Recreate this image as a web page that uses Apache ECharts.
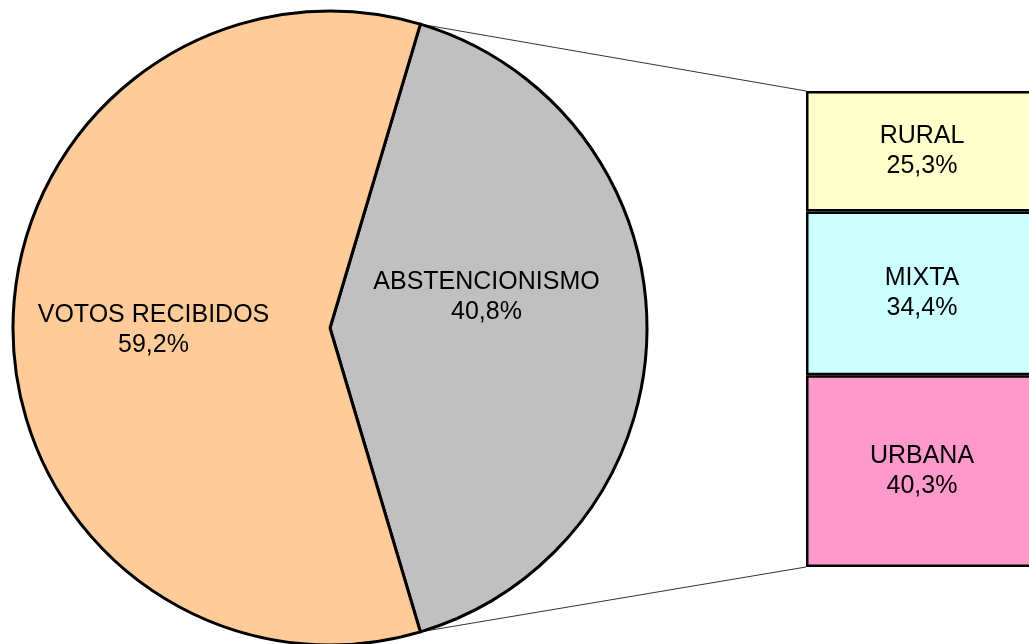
<!DOCTYPE html>
<html lang="es">
<head>
    <meta charset="UTF-8">
    <title>Votos</title>
    <script src="https://cdn.jsdelivr.net/npm/echarts@6/dist/echarts.min.js"></script>
    <style>
        body { margin: 0; background: #fff; }
    </style>
</head>
<body>
<div id="chart" style="width: 1029px;height:644px"></div>
<script>
    var chartDom = document.getElementById('chart');
    var myChart = echarts.init(chartDom);

    // pie
    var pieNames = ['ABSTENCIONISMO', 'VOTOS RECIBIDOS'];
    var pieValues = [40.8, 59.2];
    var pieColors = ['#c0c0c0', '#ffcc99'];
    // bar (top to bottom)
    var barNames = ['RURAL', 'MIXTA', 'URBANA'];
    var barValues = [25.3, 34.4, 40.3];
    var barColors = ['#ffffcc', '#ccffff', '#ff99cc'];

    var font = "'Liberation Sans', Arial, sans-serif";
    var cx = 330, cy = 328, r = 317;
    var gridLeft = 806, gridTop = 91, gridW = 232, gridH = 476;

    function pct(v) {
        return v.toFixed(1).replace('.', ',') + '%';
    }

    var pieSum = pieValues[0] + pieValues[1];
    var halfAngle = pieValues[0] / pieSum * 180; // gray slice centred on the right
    var barSum = barValues.reduce(function (a, b) { return a + b; }, 0);

    // connector lines: pie edge -> bar corners
    var a = halfAngle * Math.PI / 180;
    var px = cx + r * Math.cos(a);
    var pyTop = cy - r * Math.sin(a);
    var pyBot = cy + r * Math.sin(a);

    var labelShift = [[-5, -31], [-15, 2]];

    var barSeries = [];
    for (var i = barNames.length - 1; i >= 0; i--) {
        barSeries.push({
            name: barNames[i],
            type: 'bar',
            stack: 'total',
            barWidth: '100%',
            silent: true,
            itemStyle: {
                color: barColors[i],
                borderColor: '#000',
                borderWidth: 2.5
            },
            label: {
                show: true,
                position: 'inside',
                color: '#000',
                fontSize: 25,
                lineHeight: 30,
                fontFamily: font,
                formatter: function (p) {
                    return p.seriesName + '\n' + pct(p.value);
                }
            },
            data: [barValues[i]]
        });
    }

    var option = {
        backgroundColor: '#ffffff',
        animation: false,
        grid: {
            left: gridLeft,
            top: gridTop,
            width: gridW,
            height: gridH,
            outerBoundsMode: 'none'
        },
        xAxis: {
            type: 'category',
            show: false,
            data: ['']
        },
        yAxis: {
            type: 'value',
            show: false,
            min: 0,
            max: barSum
        },
        graphic: [{
            type: 'line',
            silent: true,
            shape: { x1: px, y1: pyTop, x2: gridLeft, y2: gridTop },
            style: { stroke: '#333', lineWidth: 1 }
        }, {
            type: 'line',
            silent: true,
            shape: { x1: px, y1: pyBot, x2: gridLeft, y2: gridTop + gridH },
            style: { stroke: '#333', lineWidth: 1 }
        }],
        series: [{
            type: 'pie',
            center: [cx, cy],
            radius: r,
            startAngle: halfAngle,
            clockwise: true,
            silent: true,
            avoidLabelOverlap: false,
            itemStyle: {
                borderColor: '#000',
                borderWidth: 3
            },
            label: {
                show: true,
                position: 'inside',
                color: '#000',
                fontSize: 25,
                lineHeight: 30,
                fontFamily: font,
                formatter: function (p) {
                    return p.name + '\n' + pct(p.value);
                }
            },
            labelLine: { show: false },
            labelLayout: function (p) {
                return { dx: labelShift[p.dataIndex][0], dy: labelShift[p.dataIndex][1] };
            },
            data: pieNames.map(function (n, k) {
                return { name: n, value: pieValues[k], itemStyle: { color: pieColors[k] } };
            })
        }].concat(barSeries)
    };

    option && myChart.setOption(option);
</script>
</body>
</html>
